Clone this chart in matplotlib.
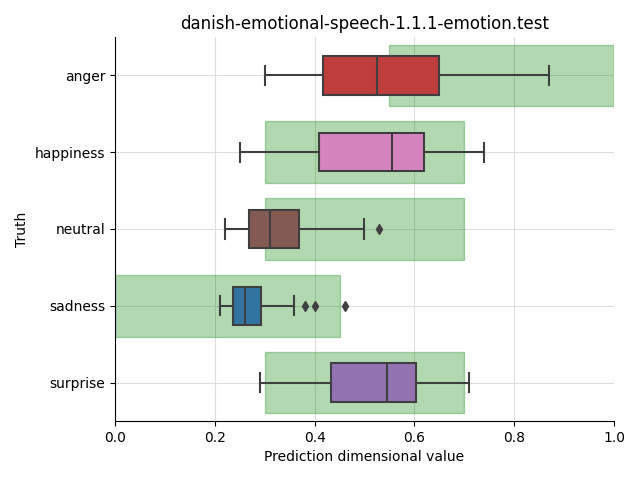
import matplotlib
matplotlib.use("Agg")
import matplotlib.pyplot as plt
from matplotlib.patches import Rectangle

categories = ["anger", "happiness", "neutral", "sadness", "surprise"]
whislo = [0.30, 0.25, 0.22, 0.21, 0.29]
q1 = [0.417, 0.408, 0.269, 0.236, 0.432]
med = [0.525, 0.555, 0.311, 0.26, 0.545]
q3 = [0.65, 0.619, 0.369, 0.293, 0.603]
whishi = [0.87, 0.74, 0.499, 0.358, 0.709]
fliers = [[], [], [0.53], [0.38, 0.40, 0.46], []]
range_lo = [0.55, 0.3, 0.3, 0.0, 0.3]
range_hi = [1.0, 0.7, 0.7, 0.45, 0.7]
colors = ["#c03d3e", "#d684bd", "#845b53", "#3274a1", "#9372b2"]

fig = plt.figure(figsize=(6.4, 4.8), dpi=100)
ax = fig.add_axes([115/640, 1-421/480, (614-115)/640, (421-37)/480])

ax.grid(True, color="#dddddd", linewidth=0.8, zorder=0)
ax.set_axisbelow(True)

for i in range(len(categories)):
    ax.add_patch(Rectangle((range_lo[i], i - 0.4), range_hi[i] - range_lo[i], 0.8,
                           facecolor="green", edgecolor="green", alpha=0.3, linewidth=1, zorder=1))

stats = []
for i, c in enumerate(categories):
    stats.append(dict(label=c, whislo=whislo[i], q1=q1[i], med=med[i], q3=q3[i],
                      whishi=whishi[i], fliers=fliers[i]))

lc = "#3f3f3f"
bp = ax.bxp(stats, positions=range(len(categories)), vert=False, widths=0.5,
            patch_artist=True, manage_ticks=False,
            boxprops=dict(edgecolor=lc, linewidth=1.5),
            medianprops=dict(color=lc, linewidth=1.5),
            whiskerprops=dict(color=lc, linewidth=1.5),
            capprops=dict(color=lc, linewidth=1.5),
            flierprops=dict(marker="d", markerfacecolor=lc, markeredgecolor=lc, markersize=5))
for patch, col in zip(bp["boxes"], colors):
    patch.set_facecolor(col)
    patch.set_zorder(2)
for k in ["medians", "whiskers", "caps", "fliers"]:
    for a in bp[k]:
        a.set_zorder(3)

ax.set_yticks(range(len(categories)))
ax.set_yticklabels(categories)
ax.set_ylim(4.5, -0.5)
ax.set_xlim(0, 1)
ax.spines["top"].set_visible(False)
ax.spines["right"].set_visible(False)
ax.set_xlabel("Prediction dimensional value")
ax.set_ylabel("Truth")
ax.set_title("danish-emotional-speech-1.1.1-emotion.test")

fig.savefig("out.png", dpi=100)
